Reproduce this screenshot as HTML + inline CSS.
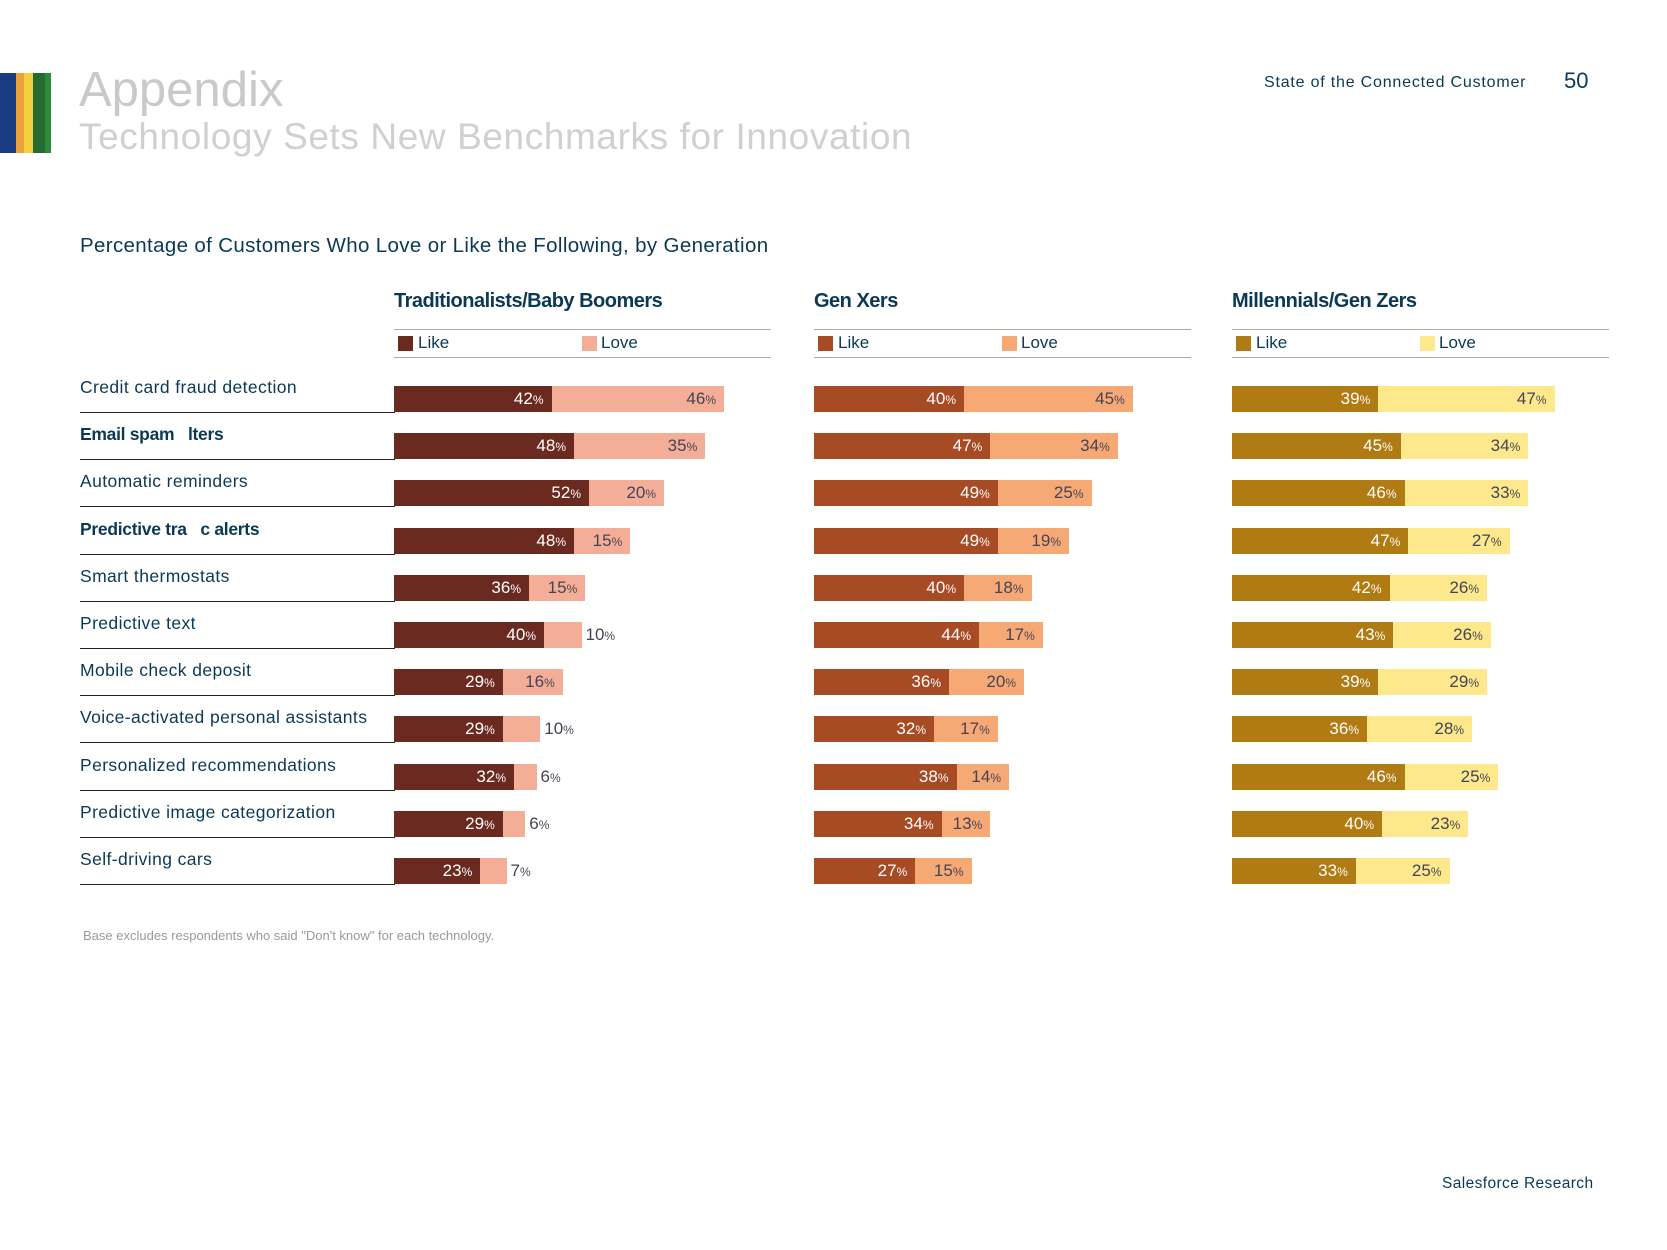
<!DOCTYPE html>
<html><head><meta charset="utf-8"><style>
body{margin:0;width:1667px;height:1250px;background:#fff;font-family:"Liberation Sans",sans-serif;position:relative;overflow:hidden}
.abs{position:absolute;white-space:pre}
</style></head><body>
<div class="abs" style="left:0;top:73px;width:51px;height:80px;background:linear-gradient(90deg,#1a3a84 0 16px,#e9a23b 16px 24px,#f3cf3d 24px 33px,#256b32 33px 45px,#2c8c35 45px 51px)"></div>
<div class="abs" style="left:79px;top:62px;font-size:49px;color:#c9c9c9">Appendix</div>
<div class="abs" style="left:79px;top:116px;font-size:37px;color:#d0d0d0;letter-spacing:0.6px">Technology Sets New Benchmarks for Innovation</div>
<div class="abs" style="left:1264px;top:74px;font-size:16px;color:#0b3954;letter-spacing:0.8px">State of the Connected Customer</div>
<div class="abs" style="left:1564px;top:68px;font-size:22px;color:#0b3954">50</div>
<div class="abs" style="left:80px;top:234px;font-size:20.5px;color:#0b3954;letter-spacing:0.35px">Percentage of Customers Who Love or Like the Following, by Generation</div>
<div class="abs" style="left:83px;top:928px;font-size:13px;color:#999">Base excludes respondents who said "Don't know" for each technology.</div>
<div class="abs" style="left:1442px;top:1175px;font-size:15.5px;color:#0b3954;letter-spacing:0.4px">Salesforce Research</div>
<div id="chart"></div>
<script>
const categories=["Credit card fraud detection","Email spam   lters","Automatic reminders","Predictive tra   c alerts","Smart thermostats","Predictive text","Mobile check deposit","Voice-activated personal assistants","Personalized recommendations","Predictive image categorization","Self-driving cars"];
const boldRows=[1,3];
const groups=["Traditionalists/Baby Boomers","Gen Xers","Millennials/Gen Zers"];
const likeBoomers=[42,48,52,48,36,40,29,29,32,29,23];
const loveBoomers=[46,35,20,15,15,10,16,10,6,6,7];
const likeGenX=[40,47,49,49,40,44,36,32,38,34,27];
const loveGenX=[45,34,25,19,18,17,20,17,14,13,15];
const likeMill=[39,45,46,47,42,43,39,36,46,40,33];
const loveMill=[47,34,33,27,26,26,29,28,25,23,25];
const likeSeries=[likeBoomers,likeGenX,likeMill];
const loveSeries=[loveBoomers,loveGenX,loveMill];

const colX=[394,814,1232], PX=3.75, ROW0=386, ROWH=47.2, BH=26;
const likeCol=["#6b2a1f","#a64b24","#b07b12"], loveCol=["#f4ae98","#f7a975","#fde98c"];
const xs=(g,v)=>v*PX;
const root=document.getElementById('chart');
function mk(style,text){const d=document.createElement('div');d.className='abs';d.style.cssText=style;if(text!==undefined)d.innerHTML=text;root.appendChild(d);return d;}
const pct=v=>v+'<span style="font-size:12px">%</span>';
categories.forEach((c,i)=>{
  const y=ROW0+i*ROWH;
  const b=boldRows.includes(i);
  const l=mk(`left:80px;top:${y-9}px;font-size:17.5px;color:#0b3954;${b?'font-weight:bold;letter-spacing:-0.3px':'letter-spacing:0.4px'}`,c);
  
  
  const u=mk(`left:80px;top:${y+26}px;width:315px;height:1px;background:#222`);
  
  
});
groups.forEach((g,gi)=>{
  const x0=colX[gi];
  const h=mk(`left:${x0}px;top:290px;font-size:20px;font-weight:bold;color:#0b3954;letter-spacing:-0.5px`,g);
  
  
  const l1=mk(`left:${x0}px;top:329px;width:377px;height:1px;background:#aaa`);
  
  
  const l2=mk(`left:${x0}px;top:357px;width:377px;height:1px;background:#aaa`);
  
  
  const s1=mk(`left:${x0+4}px;top:336px;width:15px;height:15px;background:${likeCol[gi]}`);
  
  
  const t1=mk(`left:${x0+24}px;top:333px;font-size:17px;color:#0b3954`,'Like');
  
  
  const s2=mk(`left:${x0+188}px;top:336px;width:15px;height:15px;background:${loveCol[gi]}`);
  
  
  const t2=mk(`left:${x0+207}px;top:333px;font-size:17px;color:#0b3954`,'Love');
  
  
  categories.forEach((c,i)=>{
    const y=ROW0+i*ROWH, lk=likeSeries[gi][i], lv=loveSeries[gi][i];
    const w1=xs(gi,lk), w2=xs(gi,lv);
    const b1=mk(`left:${x0}px;top:${y}px;width:${w1}px;height:${BH}px;background:${likeCol[gi]}`);
    
    
    const b2=mk(`left:${x0+w1}px;top:${y}px;width:${w2}px;height:${BH}px;background:${loveCol[gi]}`);
    
    
    const v1=mk(`left:${x0}px;width:${w1-8}px;text-align:right;top:${y+3}px;font-size:17px;color:#fff`,pct(lk));
    
    
    let st;
    if(lv>=13) st=`left:${x0+w1}px;width:${w2-8}px;text-align:right;`;
    else st=`left:${x0+w1+w2+4}px;`;
    const v2=mk(st+`top:${y+3}px;font-size:17px;color:#445`,pct(lv));
    
    
  });
});
</script>
</body></html>
